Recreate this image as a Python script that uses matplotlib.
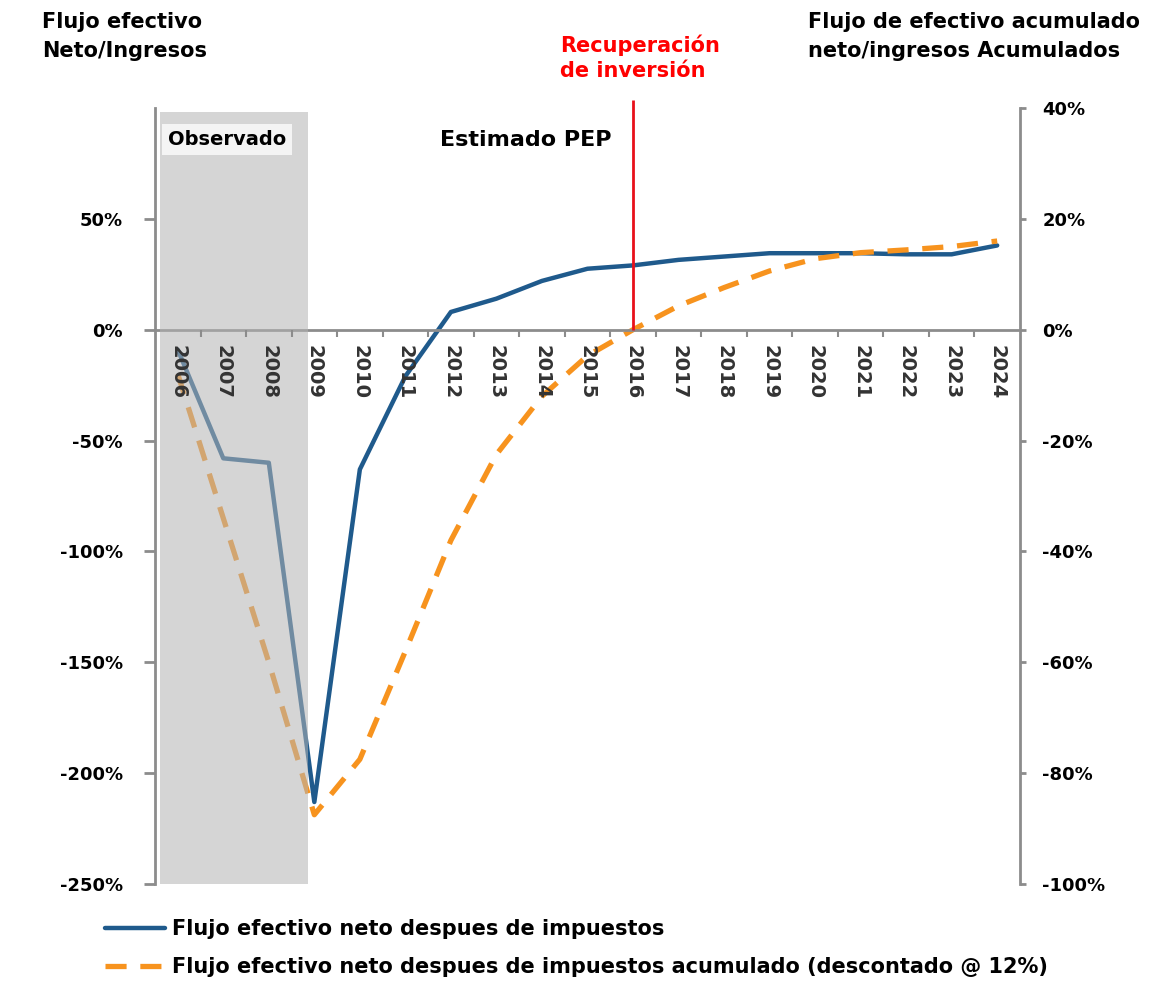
import numpy as np
import matplotlib.pyplot as plt
from matplotlib.ticker import FixedLocator, FuncFormatter

# ── datos ─────────────────────────────────────────────────────────────
years = [str(y) for y in range(2006, 2025)]
flujo_neto = [-9, -58, -60, -213, -63, -21, 8, 14, 22, 27.5, 29, 31.5,
              33, 34.5, 34.5, 34.5, 34, 34, 38]                 # eje izq. (%)
flujo_acum = [-8, -34, -60, -87.5, -77.5, -58, -38, -22.5, -12, -4.7, 0,
              4.3, 7.6, 10.6, 12.8, 13.9, 14.4, 15, 16]          # eje der. (%)
left_ticks = [-250, -200, -150, -100, -50, 0, 50]
right_ticks = [-100, -80, -60, -40, -20, 0, 20, 40]
anio_recuperacion = "2016"
n_observados = 3   # 2006-2008

# ── estilo ────────────────────────────────────────────────────────────
plt.rcParams["font.family"] = ["DejaVu Sans"]
AZUL = "#1f5a8c"
NARANJA = "#f7931e"
GRIS = "#8c8c8c"

fig = plt.figure(figsize=(11.76, 9.97), dpi=100)
ax = fig.add_axes([0.1318, 0.1133, 0.7355, 0.7784])
ax2 = ax.twinx()

x = np.arange(len(years))
l1, = ax.plot(x, flujo_neto, color=AZUL, lw=3.2, solid_capstyle="round",
              label="Flujo efectivo neto despues de impuestos")
l2, = ax2.plot(x, flujo_acum, color=NARANJA, lw=3.8, ls=(0, (4, 2.6)),
               label="Flujo efectivo neto despues de impuestos acumulado (descontado @ 12%)")

ax.set_xlim(-0.5, len(years) - 0.5)
ax.set_ylim(-250, 100)
ax2.set_ylim(-100, 40)

# zona observada (sombreada sobre las líneas)
ax2.axvspan(-0.4, n_observados - 0.15, ymin=0, ymax=0.995, color="#b4b4b4",
            alpha=0.55, lw=0, zorder=3)

# línea de recuperación de la inversión
xr = years.index(anio_recuperacion)
ax2.vlines(xr, 0, 41.5, color="#e8101a", lw=2, zorder=4, clip_on=False)

# ── ejes ──────────────────────────────────────────────────────────────
for s in ["top", "bottom", "right"]:
    ax.spines[s].set_visible(False)
for s in ["top", "left"]:
    ax2.spines[s].set_visible(False)
ax.spines["left"].set_color(GRIS)
ax.spines["left"].set_linewidth(2)
ax2.spines["right"].set_color(GRIS)
ax2.spines["right"].set_linewidth(2)
ax2.spines["bottom"].set_position(("data", 0))
ax2.spines["bottom"].set_color(GRIS)
ax2.spines["bottom"].set_linewidth(2)

pct = FuncFormatter(lambda v, _: f"{v:.0f}%")
ax.set_yticks(left_ticks)
ax.yaxis.set_major_formatter(pct)
ax.tick_params(axis="y", direction="out", length=8, width=2, color=GRIS,
               pad=15, labelsize=13)
ax2.set_yticks(right_ticks)
ax2.yaxis.set_major_formatter(pct)
ax2.tick_params(axis="y", direction="out", length=4, width=2, color=GRIS,
                pad=12, labelsize=13)
for lab in ax.get_yticklabels() + ax2.get_yticklabels():
    lab.set_fontweight("bold")

ax.xaxis.set_visible(False)
ax2.xaxis.set_visible(True)
ax2.xaxis.set_zorder(3.5)
ax2.set_xticks(x)
ax2.set_xticklabels(years, rotation=-90, fontsize=14, fontweight="bold",
                    color="#333333")
ax2.xaxis.set_minor_locator(FixedLocator(x[:-1] + 0.5))
ax2.tick_params(axis="x", which="major", length=0, pad=11)
ax2.tick_params(axis="x", which="minor", direction="out", length=5, width=1.5,
                color=GRIS)

# ── textos ────────────────────────────────────────────────────────────
fig.text(0.0357, 0.988, "Flujo efectivo\nNeto/Ingresos", fontsize=15,
         fontweight="bold", va="top", ha="left", linespacing=1.55)
fig.text(0.687, 0.988, "Flujo de efectivo acumulado\nneto/ingresos Acumulados",
         fontsize=15, fontweight="bold", va="top", ha="left", linespacing=1.55)
fig.text(0.476, 0.965, "Recuperación\nde inversión", fontsize=15,
         fontweight="bold", color="#ff0000", va="top", ha="left",
         linespacing=1.3)
fig.text(0.374, 0.86, "Estimado PEP", fontsize=16, fontweight="bold",
         va="center", ha="left")
fig.text(0.193, 0.86, "Observado", fontsize=14, fontweight="bold",
         va="center", ha="center",
         bbox=dict(facecolor="#f4f4f4", edgecolor="none", pad=4))

fig.legend(handles=[l1, l2], loc="upper left", bbox_to_anchor=(0.089, 0.078),
           frameon=False, borderpad=0, borderaxespad=0, handlelength=2.9,
           handletextpad=0.35, labelspacing=0.85,
           prop=dict(size=15, weight="bold"))

fig.savefig("out.png", dpi=100)
